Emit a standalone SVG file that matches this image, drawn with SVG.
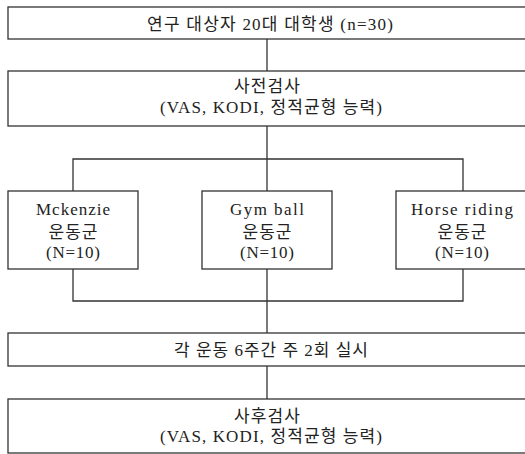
<svg xmlns="http://www.w3.org/2000/svg" width="525" height="454" viewBox="0 0 525 454">
<style>
.box{fill:#fff;stroke:#333;stroke-width:1.3}
.ln{fill:none;stroke:#333;stroke-width:1.3}
text{font-family:"Liberation Serif","Noto Sans CJK KR",serif;font-size:17px;fill:#222;text-anchor:middle}
</style>
<rect width="525" height="454" fill="#fff"/>
<g id="connectors">
<line class="ln" x1="267" y1="39" x2="267" y2="71"/>
<line class="ln" x1="267" y1="126" x2="267" y2="191"/>
<polyline class="ln" points="73,191 73,159 463,159 463,191"/>
<polyline class="ln" points="73,269 73,301 463,301 463,269"/>
<line class="ln" x1="267" y1="269" x2="267" y2="333"/>
<line class="ln" x1="267" y1="366" x2="267" y2="399"/>
</g>
<g id="n1">
<rect class="box" x="8" y="7" width="520" height="32"/>
<text x="270" y="30" textLength="246" lengthAdjust="spacing">연구 대상자 20대 대학생 (n=30)</text>
</g>
<g id="n2">
<rect class="box" x="8" y="71" width="520" height="55"/>
<text x="267" y="92" textLength="66" lengthAdjust="spacing">사전검사</text>
<text x="271" y="113" textLength="222" lengthAdjust="spacing">(VAS, KODI, 정적균형 능력)</text>
</g>
<g id="g1">
<rect class="box" x="8" y="191" width="130" height="78"/>
<text x="73" y="215" textLength="74" lengthAdjust="spacing">Mckenzie</text>
<text x="73" y="238" textLength="49" lengthAdjust="spacing">운동군</text>
<text x="73" y="258" textLength="54" lengthAdjust="spacing">(N=10)</text>
</g>
<g id="g2">
<rect class="box" x="202" y="191" width="130" height="78"/>
<text x="267" y="215" textLength="74" lengthAdjust="spacing">Gym ball</text>
<text x="267" y="238" textLength="49" lengthAdjust="spacing">운동군</text>
<text x="267" y="258" textLength="54" lengthAdjust="spacing">(N=10)</text>
</g>
<g id="g3">
<rect class="box" x="396" y="191" width="134" height="78"/>
<text x="462" y="215" textLength="102" lengthAdjust="spacing">Horse riding</text>
<text x="462" y="238" textLength="49" lengthAdjust="spacing">운동군</text>
<text x="462" y="258" textLength="54" lengthAdjust="spacing">(N=10)</text>
</g>
<g id="n3">
<rect class="box" x="8" y="333" width="520" height="33"/>
<text x="271" y="356" textLength="194" lengthAdjust="spacing">각 운동 6주간 주 2회 실시</text>
</g>
<g id="n4">
<rect class="box" x="8" y="399" width="520" height="54"/>
<text x="267" y="422" textLength="66" lengthAdjust="spacing">사후검사</text>
<text x="271" y="442" textLength="222" lengthAdjust="spacing">(VAS, KODI, 정적균형 능력)</text>
</g>
</svg>
